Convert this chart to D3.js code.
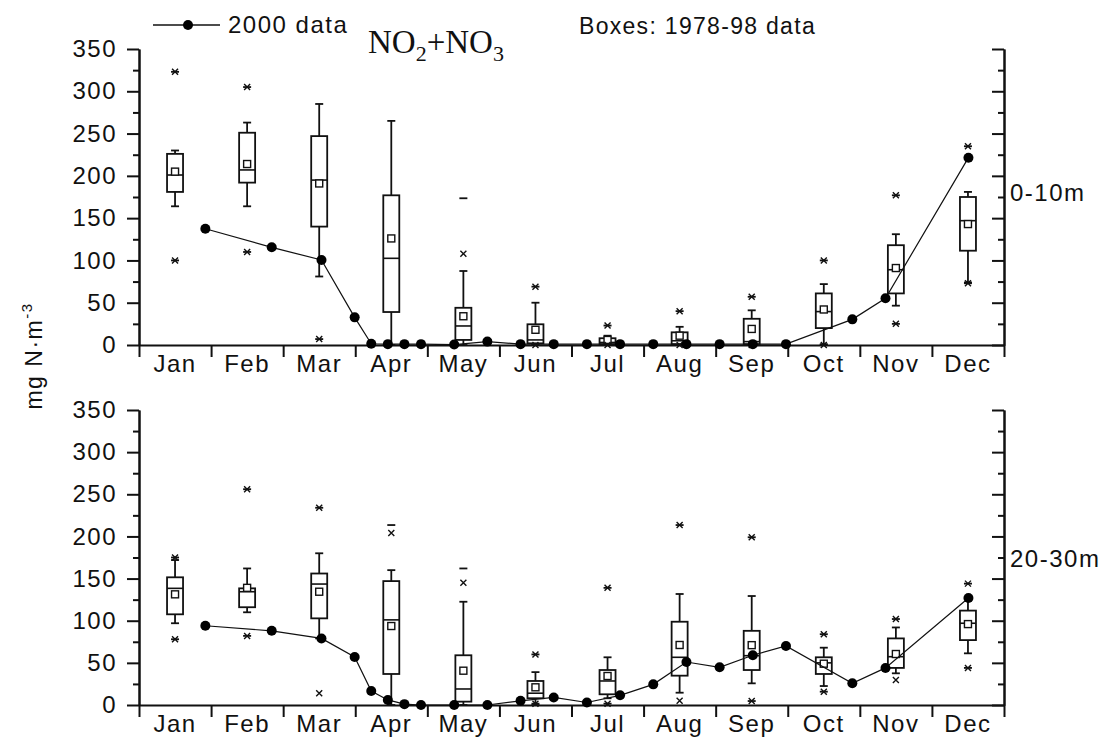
<!DOCTYPE html>
<html>
<head>
<meta charset="utf-8">
<script src="https://cdn.jsdelivr.net/npm/d3@7"></script>
<style>
  body { margin: 0; background: #fff; }
  svg text { font-family: "Liberation Sans", Arial, sans-serif; fill: #111; }
</style>
</head>
<body>
<div id="chart"></div>
<script>
// months on the x axis
const months = ["Jan", "Feb", "Mar", "Apr", "May", "Jun", "Jul", "Aug", "Sep", "Oct", "Nov", "Dec"];

// 2000 sampling (day of year) and values
const sampleDays = [28, 56, 77, 91, 98, 105, 112, 119, 133, 147, 161, 175, 189, 203, 217, 231, 245, 259, 273, 301, 315, 350];
const surface2000 = [137.5, 115.5, 100.5, 32.7, 1.5, 1, 1, 1, 0.5, 4, 1, 1, 1, 1, 1, 1, 1, 1, 1, 30.3, 55.2, 221.5];
const deep2000 = [94, 88, 79, 57, 16.6, 6, 1, 0, 0, 0, 5, 9, 3, 11.5, 24.5, 51, 44.7, 59, 70, 25.7, 44, 127];

// 1978-98 boxes, 0-10m
const surfMax = [323, 305, null, null, 173.5, 69, 23, 40, 57, 100, 177, 235];
const surfP99 = [323, 305, null, null, 108, 69, 23, 40, 57, 100, 177, 235];
const surfWhiskHigh = [230, 263, 285, 265, 87.5, 50, 11, 21.5, 41, 72, 131, 181];
const surfQ3 = [226, 251, 247, 177, 44, 24.5, 8, 15, 31, 61, 118, 175];
const surfMedian = [201, 207, 195, 102.5, 22.5, 6, 3, 5, 4, 39.5, 89, 147];
const surfMean = [205, 214, 191, 126, 34, 18, 6, 11, 19, 42, 91, 143];
const surfQ1 = [181, 192, 140, 39, 6, 2, 1, 1, 1, 20, 61, 111.5];
const surfWhiskLow = [164, 164, 81, 0, 0, 0, 0, 0, 0, 1, 46.5, 74];
const surfP1 = [100, 110, 7, null, null, 0, 0, 0, 0, 0, 25, 73];
const surfMin = [100, 110, 7, null, null, 0, 0, 0, 0, 0, 25, 73];

// 1978-98 boxes, 20-30m
const deepMax = [175, 256, 234, 213.5, 162, 60, 139, 213.5, 199, 84, 102, 144];
const deepP99 = [175, 256, 234, 204, 145, 60, 139, 213.5, 199, 84, 102, 144];
const deepWhiskHigh = [172, 162, 180, 160, 122.5, 39, 56.6, 131.7, 129.3, 68, 92, 126.5];
const deepQ3 = [151.5, 138.4, 156, 147, 59, 28.5, 41.5, 98.8, 88, 56.6, 79, 112];
const deepMedian = [138.4, 134.4, 143.5, 101, 19, 14, 28.5, 56.6, 58.5, 50, 57.3, 97];
const deepMean = [131.3, 139, 134.4, 93.7, 40.7, 21, 34.4, 71.2, 71, 49, 60.5, 96];
const deepQ1 = [107.6, 116, 102.8, 36.8, 4, 8, 12.7, 34.8, 41.5, 36.8, 44, 77];
const deepWhiskLow = [97, 110, 79, 0, 0, 0, 8, 14.6, 25.7, 22.5, 37.6, 61.3];
const deepP1 = [78, 82, 13.8, null, null, 1.6, 1.6, 5, 4.7, 15.8, 29.7, 44];
const deepMin = [78, 82, null, null, null, 1.6, 1.6, null, 4.7, 15.8, null, 44];

const majorTicks = [0, 50, 100, 150, 200, 250, 300, 350];
const minorTicks = [25, 75, 125, 175, 225, 275, 325];

const width = 1109;
const height = 738;
const left = 139;
const right = 1004;

const svg = d3.select("#chart")
  .append("svg")
  .attr("width", width)
  .attr("height", height);

const xBand = d3.scaleBand().domain(months).range([left, right]).padding(0);
const xMonth = d3.scaleLinear().domain([0, 12]).range([left, right]);
const xDay = d3.scaleLinear().domain([0, 365]).range([left, right]);

const panels = [
  { top: 49, bottom: 345, label: "0-10m", labelY: 201, line: surface2000,
    box: { max: surfMax, p99: surfP99, wh: surfWhiskHigh, q3: surfQ3, med: surfMedian, mean: surfMean, q1: surfQ1, wl: surfWhiskLow, p1: surfP1, min: surfMin } },
  { top: 410, bottom: 705, label: "20-30m", labelY: 567, line: deep2000,
    box: { max: deepMax, p99: deepP99, wh: deepWhiskHigh, q3: deepQ3, med: deepMedian, mean: deepMean, q1: deepQ1, wl: deepWhiskLow, p1: deepP1, min: deepMin } }
];

const styleAxis = (g) => {
  g.selectAll("path, line").attr("stroke", "#111").attr("stroke-width", 2);
  g.selectAll("text")
    .style("font-size", "24px")
    .style("letter-spacing", "1.5px");
};

panels.forEach(p => {
  const y = d3.scaleLinear().domain([0, 350]).range([p.bottom, p.top]);
  const g = svg.append("g");

  // left axis, major + minor
  g.append("g")
    .attr("transform", `translate(${left},0)`)
    .call(d3.axisLeft(y).tickValues(majorTicks).tickSize(12).tickSizeOuter(0).tickPadding(10))
    .call(styleAxis);
  g.append("g")
    .attr("transform", `translate(${left},0)`)
    .call(d3.axisLeft(y).tickValues(minorTicks).tickSize(6).tickSizeOuter(0).tickFormat(""))
    .call(styleAxis);

  // right axis, ticks pointing inward, no labels
  g.append("g")
    .attr("transform", `translate(${right},0)`)
    .call(d3.axisLeft(y).tickValues(majorTicks).tickSize(12).tickSizeOuter(0).tickFormat(""))
    .call(styleAxis);
  g.append("g")
    .attr("transform", `translate(${right},0)`)
    .call(d3.axisLeft(y).tickValues(minorTicks).tickSize(6).tickSizeOuter(0).tickFormat(""))
    .call(styleAxis);

  // bottom axis: boundary ticks + month labels
  g.append("g")
    .attr("transform", `translate(0,${p.bottom})`)
    .call(d3.axisBottom(xMonth).tickValues(d3.range(13)).tickSize(12).tickSizeOuter(0).tickFormat(""))
    .call(styleAxis);
  g.append("g")
    .attr("transform", `translate(0,${p.bottom})`)
    .call(d3.axisBottom(xBand).tickSize(0).tickPadding(10))
    .call(styleAxis)
    .call(a => a.select(".domain").remove());

  // depth label on the right
  g.append("text")
    .attr("x", 1010)
    .attr("y", p.labelY)
    .style("font-size", "24px")
    .style("letter-spacing", "1.5px")
    .text(p.label);

  // boxes
  const b = p.box;
  const boxW = 16;
  const capW = 8;
  months.forEach((m, i) => {
    const cx = xBand(m) + xBand.bandwidth() / 2;
    const bg = g.append("g").attr("stroke", "#111").attr("fill", "none");

    bg.append("line")
      .attr("x1", cx).attr("x2", cx)
      .attr("y1", y(b.wl[i])).attr("y2", y(b.wh[i]))
      .attr("stroke-width", 1.8);
    [b.wl[i], b.wh[i]].forEach(v => {
      bg.append("line")
        .attr("x1", cx - capW / 2).attr("x2", cx + capW / 2)
        .attr("y1", y(v)).attr("y2", y(v))
        .attr("stroke-width", 1.8);
    });

    bg.append("rect")
      .attr("x", cx - boxW / 2)
      .attr("y", y(b.q3[i]))
      .attr("width", boxW)
      .attr("height", y(b.q1[i]) - y(b.q3[i]))
      .attr("fill", "#fff")
      .attr("stroke-width", 1.8);

    bg.append("line")
      .attr("x1", cx - boxW / 2).attr("x2", cx + boxW / 2)
      .attr("y1", y(b.med[i])).attr("y2", y(b.med[i]))
      .attr("stroke-width", 1.6);

    bg.append("rect")
      .attr("x", cx - 3.5).attr("y", y(b.mean[i]) - 3.5)
      .attr("width", 7).attr("height", 7)
      .attr("fill", "#fff")
      .attr("stroke-width", 1.4);

    // 1% / 99% crosses
    [b.p1[i], b.p99[i]].forEach(v => {
      if (v === null) return;
      const yy = y(v);
      bg.append("path")
        .attr("d", `M${cx - 3},${yy - 3}L${cx + 3},${yy + 3}M${cx - 3},${yy + 3}L${cx + 3},${yy - 3}`)
        .attr("stroke-width", 1.4);
    });
    // min / max dashes
    [b.min[i], b.max[i]].forEach(v => {
      if (v === null) return;
      bg.append("line")
        .attr("x1", cx - 4).attr("x2", cx + 4)
        .attr("y1", y(v)).attr("y2", y(v))
        .attr("stroke-width", 1.8);
    });
  });

  // 2000 data line
  const pts = sampleDays.map((d, i) => ({ day: d, value: p.line[i] }));
  g.append("path")
    .datum(pts)
    .attr("fill", "none")
    .attr("stroke", "#111")
    .attr("stroke-width", 1.2)
    .attr("d", d3.line().x(d => xDay(d.day)).y(d => y(d.value)));
  g.selectAll(".dot")
    .data(pts)
    .join("circle")
      .attr("class", "dot")
      .attr("cx", d => xDay(d.day))
      .attr("cy", d => y(d.value))
      .attr("r", 5)
      .attr("fill", "#000");
});

// y axis title
const yTitle = svg.append("text")
  .attr("transform", "translate(42,356) rotate(-90)")
  .attr("text-anchor", "middle")
  .style("font-size", "23px")
  .style("letter-spacing", "1.5px");
yTitle.append("tspan").text("mg N·m");
yTitle.append("tspan").attr("dy", -10).style("font-size", "15px").text("-3");

// legend
svg.append("line")
  .attr("x1", 153).attr("x2", 220)
  .attr("y1", 25).attr("y2", 25)
  .attr("stroke", "#111").attr("stroke-width", 1.5);
svg.append("circle")
  .attr("cx", 188).attr("cy", 25).attr("r", 5).attr("fill", "#000");
svg.append("text")
  .attr("x", 228).attr("y", 33)
  .style("font-size", "24px")
  .style("letter-spacing", "1.5px")
  .text("2000 data");

// title NO2+NO3
const title = svg.append("text")
  .attr("x", 368).attr("y", 53)
  .style("font-family", "'Liberation Serif', 'Times New Roman', serif")
  .style("font-size", "33px");
title.append("tspan").text("NO");
title.append("tspan").attr("dy", 8).style("font-size", "22px").text("2");
title.append("tspan").attr("dy", -8).text("+NO");
title.append("tspan").attr("dy", 8).style("font-size", "22px").text("3");

svg.append("text")
  .attr("x", 579).attr("y", 34)
  .style("font-size", "23px")
  .style("letter-spacing", "1.3px")
  .text("Boxes: 1978-98 data");
</script>
</body>
</html>
